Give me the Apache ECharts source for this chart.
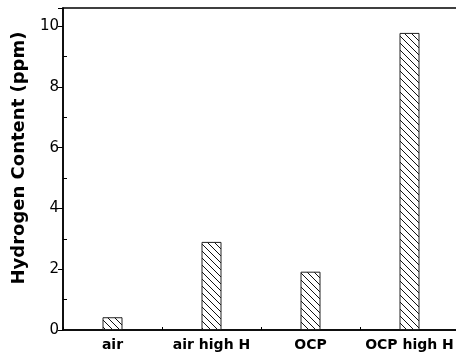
<!DOCTYPE html>
<html>
<head>
<meta charset="utf-8">
<script src="https://cdn.jsdelivr.net/npm/echarts@6/dist/echarts.min.js"></script>
<style>
  html, body { margin: 0; padding: 0; background: #fff; }
  #chart { width: 456px; height: 354px; }
</style>
</head>
<body>
<div id="chart"></div>
<script>
var categories = ["air", "air high H", "OCP", "OCP high H"];
var hydrogen = [0.42, 2.9, 1.92, 9.78];
var yTicks = [0, 2, 4, 6, 8, 10];
var yMinorTicks = [1, 3, 5, 7, 9];

// hatch fill "\\\\"
function hatch() {
    var c = document.createElement("canvas");
    c.width = 7;
    c.height = 7;
    var ctx = c.getContext("2d");
    ctx.fillStyle = "#fff";
    ctx.fillRect(0, 0, 7, 7);
    ctx.strokeStyle = "#111";
    ctx.lineWidth = 1;
    ctx.beginPath();
    ctx.moveTo(-1, -1); ctx.lineTo(8, 8);
    ctx.moveTo(-1, 6); ctx.lineTo(1, 8);
    ctx.moveTo(6, -1); ctx.lineTo(8, 1);
    ctx.stroke();
    return c;
}

var myChart = echarts.init(document.getElementById("chart"));
myChart.setOption({
    animation: false,
    grid: {
        left: 63, top: 8, width: 396, bottom: 24,
        containLabel: false,
        outerBoundsMode: "none",
        show: true,
        borderColor: "#000",
        borderWidth: 1.5
    },
    xAxis: {
        type: "category",
        data: categories,
        boundaryGap: true,
        axisLine: { lineStyle: { color: "#000", width: 1.5 } },
        axisTick: { show: true, inside: true, length: 3, interval: 0, lineStyle: { color: "#000" } },
        axisLabel: {
            margin: 8,
            interval: 0,
            fontFamily: "DejaVu Sans",
            fontWeight: "bold",
            fontSize: 14,
            color: "#000"
        }
    },
    yAxis: [{
        type: "value",
        min: 0,
        max: 10.6,
        interval: 2,
        name: "Hydrogen Content (ppm)",
        nameLocation: "middle",
        nameGap: 35,
        nameTextStyle: {
            fontFamily: "DejaVu Sans",
            fontWeight: "bold",
            fontSize: 18,
            color: "#000",
            padding: [0, 0, 0, 22]
        },
        splitLine: { show: false },
        axisLine: { show: true, lineStyle: { color: "#000", width: 1.5 } },
        axisTick: { show: true, inside: false, length: 5, lineStyle: { color: "#000" } },
        axisLabel: {
            margin: 4,
            fontFamily: "DejaVu Sans",
            fontSize: 15,
            color: "#000",
            formatter: function(v) { return yTicks.indexOf(v) >= 0 ? String(v) : ""; }
        }
    }, {
        // minor ticks, drawn inside
        type: "value",
        position: "left",
        offset: 0,
        min: 0,
        max: 10.6,
        interval: 1,
        splitLine: { show: false },
        axisLine: { show: false },
        axisLabel: { show: false },
        axisTick: {
            show: true, inside: true, length: 4,
            customValues: yMinorTicks,
            lineStyle: { color: "#000" }
        }
    }],
    series: [{
        type: "bar",
        data: hydrogen,
        barWidth: 20,
        itemStyle: {
            color: { image: hatch(), repeat: "repeat" },
            borderColor: "#222",
            borderWidth: 1
        }
    }]
});
</script>
</body>
</html>
